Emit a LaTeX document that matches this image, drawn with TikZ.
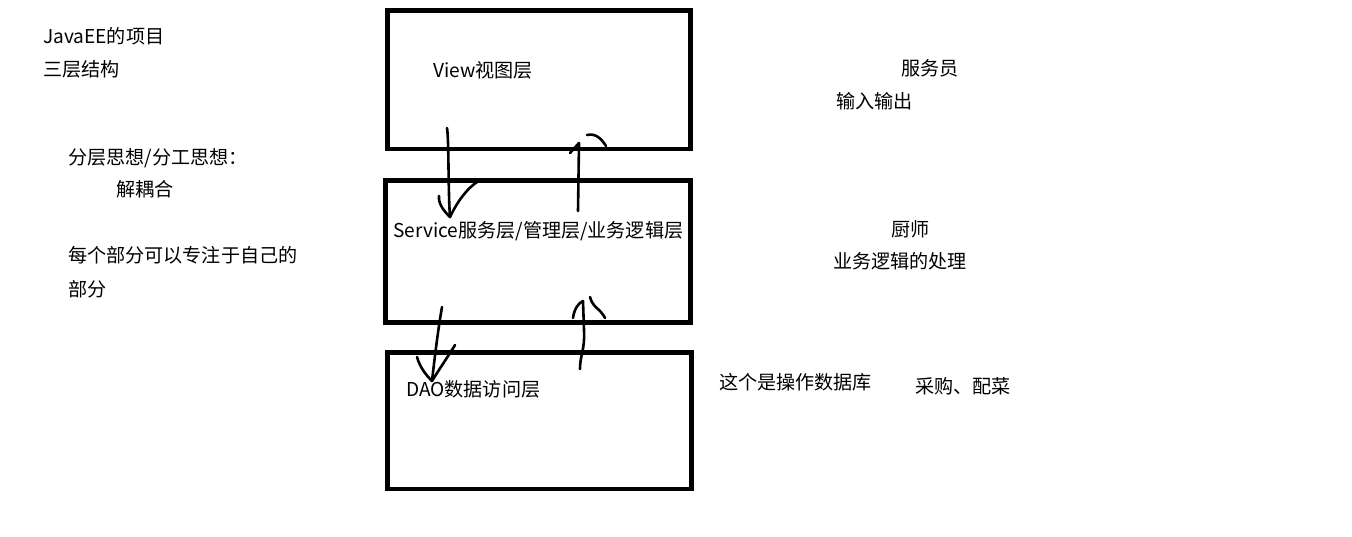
\documentclass[tikz,border=0pt]{standalone}
\usepackage{fontspec}
\setmainfont{Noto Sans CJK SC}
\begin{document}
\begin{tikzpicture}[x=1pt,y=-1pt,
  layerbox/.style={draw=black,line width=4.8pt},
  note/.style={anchor=west,inner sep=0pt,font=\fontsize{19.1}{23}\selectfont},
  pen/.style={draw=black,line width=2.6pt,line cap=round,line join=round}]
\useasboundingbox[fill=white] (0,0) rectangle (1352,536);

% the three layers
\draw[layerbox] (387.5,10.5) rectangle (690.5,149);
\draw[layerbox] (385.5,180.5) rectangle (690.5,322.5);
\draw[layerbox] (387.5,352.5) rectangle (691.5,489);

% layer titles
\node[note] (view) at (433,70) {View视图层};
\node[note] (svc) at (393,231) {Service服务层/管理层/业务逻辑层};
\node[note] (dao) at (406,389) {DAO数据访问层};

% notes on the left
\node[note] (t1) at (43,36) {JavaEE的项目};
\node[note] (t2) at (43,69) {三层结构};
\node[note] (t3) at (68,158) {分层思想/分工思想：};
\node[note] (t4) at (116,189) {解耦合};
\node[note] (t5) at (68,255) {每个部分可以专注于自己的};
\node[note] (t6) at (68,289) {部分};

% notes on the right
\node[note] (r1) at (901,68) {服务员};
\node[note] (r2) at (836,101) {输入输出};
\node[note] (r3) at (891,229) {厨师};
\node[note] (r4) at (833,261) {业务逻辑的处理};
\node[note] (r5) at (719,382) {这个是操作数据库};
\node[note] (r6) at (915,386) {采购、配菜};

% hand-drawn arrow: view -> service
\coordinate (a1s) at (447,128);
\coordinate (a1t) at (450,217);
\draw[pen] (a1s) .. controls (449,140) and (448,190) .. (a1t);
\draw[pen] (439,196) .. controls (438,205) and (446,213) .. (a1t)
           .. controls (458,200) and (468,188) .. (477,182);

% hand-drawn arrow: service -> view
\coordinate (a2s) at (578,211);
\coordinate (a2t) at (579,143);
\draw[pen] (a2s) -- (a2t);
\draw[pen] (570,153) -- (a2t);
\draw[pen] (587,135) .. controls (595,133) and (601,138) .. (606,146);

% hand-drawn arrow: service -> dao
\coordinate (a3s) at (442,307);
\coordinate (a3t) at (432,381);
\draw[pen] (a3s) .. controls (438,330) and (435,355) .. (a3t);
\draw[pen] (417,357) .. controls (420,368) and (427,376) .. (a3t)
           .. controls (440,368) and (449,355) .. (455,345);

% hand-drawn arrow: dao -> service
\coordinate (a4s) at (580,369);
\coordinate (a4t) at (583,301);
\draw[pen] (a4s) .. controls (580,355) and (585,350) .. (584,330) -- (a4t);
\draw[pen] (573,318) .. controls (574,310) and (578,303) .. (a4t);
\draw[pen] (590,297) .. controls (592,305) and (597,308) .. (599,310)
           .. controls (602,313) and (604,316) .. (605,318);
\end{tikzpicture}
\end{document}
